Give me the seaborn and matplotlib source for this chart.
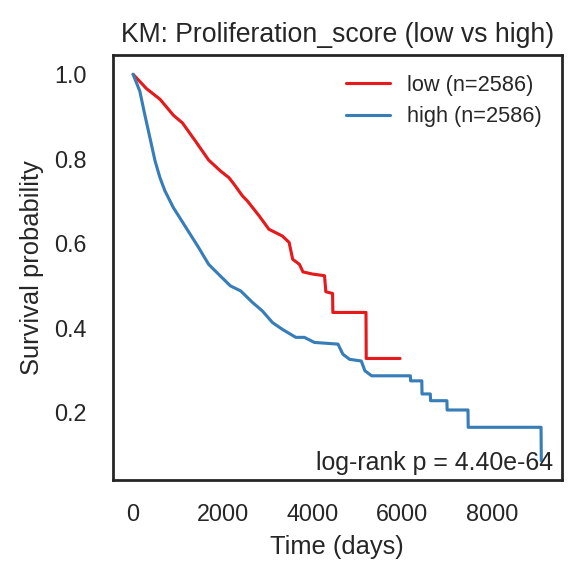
import numpy as np
import pandas as pd
import matplotlib
matplotlib.use("Agg")
import matplotlib.pyplot as plt
import seaborn as sns

# KM curve vertices (time in days, survival probability)
low_time = [0, 300, 600, 900, 1100, 1390, 1685, 1950, 2140, 2250, 2440, 2550,
            2810, 3030, 3330, 3480, 3560, 3710, 3790, 4000, 4270, 4300, 4450,
            4456, 5195, 5200, 5955]
low_surv = [1.0, 0.966, 0.941, 0.903, 0.885, 0.842, 0.797, 0.771, 0.755, 0.740,
            0.712, 0.700, 0.665, 0.633, 0.617, 0.602, 0.562, 0.550, 0.532, 0.527,
            0.523, 0.485, 0.481, 0.436, 0.436, 0.327, 0.327]

high_time = [0, 150, 260, 375, 490, 600, 710, 900, 1085, 1275, 1460, 1685, 1950,
             2170, 2400, 2660, 2880, 3110, 3330, 3630, 3820, 4045, 4570, 4680,
             4830, 5090, 5170, 5320, 6185, 6190, 6440, 6445, 6630, 6635, 7000,
             7005, 7470, 7475, 9100, 9105]
high_surv = [1.0, 0.960, 0.905, 0.850, 0.795, 0.755, 0.724, 0.684, 0.653, 0.621,
             0.590, 0.550, 0.522, 0.499, 0.487, 0.460, 0.440, 0.412, 0.396, 0.377,
             0.377, 0.365, 0.361, 0.337, 0.325, 0.321, 0.298, 0.286, 0.286, 0.274,
             0.274, 0.243, 0.243, 0.227, 0.227, 0.205, 0.205, 0.164, 0.164, 0.085]

group_labels = ["low (n=2586)", "high (n=2586)"]
colors = ["#e41a1c", "#377eb8"]
p_text = "log-rank p = 4.40e-64"

sns.set_theme(style="white", context="notebook")
plt.rcParams["font.family"] = ["Liberation Sans", "DejaVu Sans"]

df = pd.concat([
    pd.DataFrame({"time": low_time, "surv": low_surv, "group": group_labels[0]}),
    pd.DataFrame({"time": high_time, "surv": high_surv, "group": group_labels[1]}),
], ignore_index=True)

fig, ax = plt.subplots(figsize=(582 / 160, 582 / 160), dpi=160)
fig.subplots_adjust(left=0.1936, right=0.9651, top=0.9055, bottom=0.1753)

sns.lineplot(data=df, x="time", y="surv", hue="group", palette=colors,
             hue_order=group_labels, sort=False, estimator=None,
             linewidth=1.4, ax=ax)

ax.set_xticks([0, 2000, 4000, 6000, 8000])
ax.set_yticks([0.2, 0.4, 0.6, 0.8, 1.0])
ax.tick_params(labelsize=10.5)
ax.tick_params(axis="y", pad=plt.rcParams["ytick.major.pad"] + 2.3)
ax.tick_params(axis="x", pad=plt.rcParams["xtick.major.pad"] + 1.0)
ax.set_xlabel("Time (days)", fontsize=11.5)
ax.set_ylabel("Survival probability", fontsize=11.5, labelpad=4.5)
ax.set_title("KM: Proliferation_score (low vs high)", fontsize=12)
ax.legend(frameon=False, loc="upper right", fontsize=9.8)
ax.text(0.98, 0.012, p_text, transform=ax.transAxes, ha="right", va="bottom",
        fontsize=11.2, color=".15")

fig.savefig("out.png", dpi=160)
